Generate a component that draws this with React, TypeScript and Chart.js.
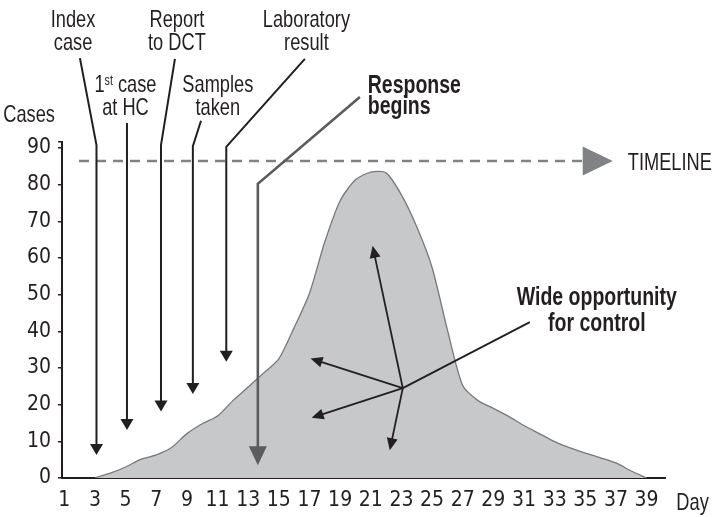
import React, { useEffect, useRef } from "react";
import { Chart, registerables } from "chart.js";

Chart.register(...registerables);

// ---- data ----
const days = [3, 4, 5, 6, 7, 8, 9, 10, 11, 12, 13, 14, 15, 16, 17, 18, 19, 20, 21, 22, 23, 24, 25, 26, 27, 28, 29, 30, 31, 32, 33, 34, 35, 36, 37, 38, 39];
const cases = [0, 1.3, 3.0, 5.1, 6.3, 8.3, 12.1, 14.8, 16.9, 21.1, 24.8, 28.6, 32.5, 41.0, 50.4, 64.4, 75.6, 81.3, 83.4, 83.2, 77.2, 68.5, 57.4, 40.4, 25.2, 21.1, 19.0, 16.8, 14.3, 12.1, 9.9, 8.2, 6.8, 5.5, 4.1, 1.9, 0];
const xTickLabels = [1, 3, 5, 7, 9, 11, 13, 15, 17, 19, 21, 23, 25, 27, 29, 31, 33, 35, 37, 39];
const yTickLabels = [0, 10, 20, 30, 40, 50, 60, 70, 80, 90];

// ---- annotations (in day / cases units) ----
const regularNotes = [
  { lines: ["Index", "case"], x: 1.57, y: [123.0, 116.7], align: "center" },
  { lines: ["Report", "to DCT"], x: 8.35, y: [123.0, 116.7], align: "center" },
  { lines: ["Laboratory", "result"], x: 16.8, y: [123.0, 116.7], align: "center" },
  { lines: ["Samples", "taken"], x: 11.02, y: [105.3, 99.0], align: "center" },
  { lines: ["Cases"], x: -1.3, y: [97.1], align: "center" },
  { lines: ["TIMELINE"], x: 37.77, y: [83.9], align: "left" },
  { lines: ["Day"], x: 42.0, y: [-8.7], align: "center" },
];
const boldNotes = [
  { lines: ["Response", "begins"], x: 20.8, y: [105.1, 99.3], align: "left" },
  { lines: ["Wide opportunity", "for control"], x: 35.75, y: [47.2, 40.1], align: "center" },
];
const firstCaseNote = { x: 4.99, y: [105.3, 99.0] };

const pointers = [
  [[2.02, 114.5], [3.1, 90.8], [3.1, 6.3]],
  [[5.09, 96.8], [5.09, 13.1]],
  [[8.22, 114.3], [7.31, 90.8], [7.31, 18.1]],
  [[9.92, 97.4], [9.39, 90.5], [9.39, 22.9]],
  [[16.7, 114.3], [11.57, 90.3], [11.57, 31.7]],
];
const responsePointer = [[20.29, 103.9], [13.63, 80.2], [13.63, 3.5]];
const hub = [23.09, 24.5];
const hubLeader = [31.38, 42.5];
const hubArrows = [[21.12, 63.3], [17.07, 32.6], [17.14, 16.4], [22.24, 7.6]];
const timeline = { y: 86.45, from: 1.96, to: 34.83, tip: 36.79 };

const TICK_FONT = "'DejaVu Sans Condensed', 'Liberation Sans', sans-serif";
const NOTE_FONT = "'Liberation Sans', Arial, sans-serif";
const INK = "#231f20";
const REG_SIZE = 24;
const REG_SQUEEZE = 0.76;
const BOLD_SIZE = 25;
const BOLD_SQUEEZE = 0.78;

function head(ctx: CanvasRenderingContext2D, x1: number, y1: number, x2: number, y2: number, len: number, half: number, color: string) {
  const a = Math.atan2(y2 - y1, x2 - x1);
  const bx = x2 - len * Math.cos(a);
  const by = y2 - len * Math.sin(a);
  ctx.beginPath();
  ctx.moveTo(x2, y2);
  ctx.lineTo(bx + half * Math.sin(a), by - half * Math.cos(a));
  ctx.lineTo(bx - half * Math.sin(a), by + half * Math.cos(a));
  ctx.closePath();
  ctx.fillStyle = color;
  ctx.fill();
}

function polyArrow(ctx: CanvasRenderingContext2D, pts: number[][], color: string, width: number, len: number, half: number, withHead = true) {
  ctx.save();
  ctx.strokeStyle = color;
  ctx.lineWidth = width;
  ctx.lineJoin = "miter";
  ctx.beginPath();
  const n = pts.length;
  for (let i = 0; i < n; i++) {
    let [x, y] = pts[i];
    if (i === n - 1 && withHead) {
      const [px, py] = pts[i - 1];
      const d = Math.hypot(x - px, y - py);
      x = x - ((x - px) / d) * (len - 1);
      y = y - ((y - py) / d) * (len - 1);
    }
    if (i === 0) ctx.moveTo(x, y);
    else ctx.lineTo(x, y);
  }
  ctx.stroke();
  if (withHead) {
    const [px, py] = pts[n - 2];
    const [x, y] = pts[n - 1];
    head(ctx, px, py, x, y, len, half, color);
  }
  ctx.restore();
}

function squeezedText(ctx: CanvasRenderingContext2D, text: string, x: number, y: number, squeeze: number) {
  ctx.save();
  ctx.translate(x, y);
  ctx.scale(squeeze, 1);
  ctx.fillText(text, 0, 0);
  ctx.restore();
}

const annotationPlugin = {
  id: "outbreakNotes",
  afterDraw(chart: any) {
    const ctx: CanvasRenderingContext2D = chart.ctx;
    const xs = chart.scales.x;
    const ys = chart.scales.y;
    const P = (p: number[]) => [xs.getPixelForValue(p[0]), ys.getPixelForValue(p[1])];

    // timeline
    ctx.save();
    const ty = ys.getPixelForValue(timeline.y);
    const tx0 = xs.getPixelForValue(timeline.from);
    const tx1 = xs.getPixelForValue(timeline.to);
    const tx2 = xs.getPixelForValue(timeline.tip);
    ctx.strokeStyle = "#808285";
    ctx.lineWidth = 2.5;
    ctx.setLineDash([10, 7]);
    ctx.beginPath();
    ctx.moveTo(tx0, ty);
    ctx.lineTo(tx1, ty);
    ctx.stroke();
    ctx.setLineDash([]);
    ctx.fillStyle = "#808285";
    ctx.beginPath();
    ctx.moveTo(tx2, ty);
    ctx.lineTo(tx1, ty - 14.5);
    ctx.lineTo(tx1, ty + 14.5);
    ctx.closePath();
    ctx.fill();
    ctx.restore();

    // pointers
    pointers.forEach((pts) => polyArrow(ctx, pts.map(P), INK, 2, 11, 6.5));
    polyArrow(ctx, responsePointer.map(P), "#5b5c5e", 2.6, 19, 9);

    // hub arrows
    const h = P(hub);
    polyArrow(ctx, [h, P(hubLeader)], INK, 1.8, 0, 0, false);
    hubArrows.forEach((t) => polyArrow(ctx, [h, P(t)], INK, 1.8, 12, 5.5));

    // texts
    ctx.save();
    ctx.fillStyle = INK;
    ctx.textBaseline = "alphabetic";
    const drawNotes = (notes: any[], font: string, squeeze: number) => {
      ctx.font = font;
      notes.forEach((n) => {
        ctx.textAlign = n.align;
        n.lines.forEach((line: string, i: number) => {
          squeezedText(ctx, line, xs.getPixelForValue(n.x), ys.getPixelForValue(n.y[i]), squeeze);
        });
      });
    };
    drawNotes(regularNotes, `${REG_SIZE}px ${NOTE_FONT}`, REG_SQUEEZE);
    drawNotes(boldNotes, `bold ${BOLD_SIZE}px ${NOTE_FONT}`, BOLD_SQUEEZE);

    // "1st case" with superscript
    const cx = xs.getPixelForValue(firstCaseNote.x);
    const b1 = ys.getPixelForValue(firstCaseNote.y[0]);
    const b2 = ys.getPixelForValue(firstCaseNote.y[1]);
    const big = `${REG_SIZE}px ${NOTE_FONT}`;
    const small = `14px ${NOTE_FONT}`;
    ctx.textAlign = "left";
    ctx.font = big;
    const w1 = ctx.measureText("1").width * REG_SQUEEZE;
    const w3 = ctx.measureText(" case").width * REG_SQUEEZE;
    ctx.font = small;
    const w2 = ctx.measureText("st").width * REG_SQUEEZE;
    const sx = cx - (w1 + w2 + w3) / 2;
    ctx.font = big;
    squeezedText(ctx, "1", sx, b1, REG_SQUEEZE);
    ctx.font = small;
    squeezedText(ctx, "st", sx + w1, b1 - 7, REG_SQUEEZE);
    ctx.font = big;
    squeezedText(ctx, " case", sx + w1 + w2, b1, REG_SQUEEZE);
    ctx.textAlign = "center";
    squeezedText(ctx, "at HC", cx, b2, REG_SQUEEZE);
    ctx.restore();
  },
};

export default function App() {
  const ref = useRef<HTMLCanvasElement>(null);
  useEffect(() => {
    if (!ref.current) return;
    const chart = new Chart(ref.current, {
      type: "line",
      data: {
        datasets: [
          {
            data: days.map((d, i) => ({ x: d, y: cases[i] })),
            fill: "origin",
            backgroundColor: "#c7c8ca",
            borderColor: "#77787b",
            borderWidth: 1.3,
            pointRadius: 0,
            tension: 0.25,
          },
        ],
      },
      options: {
        responsive: false,
        animation: false,
        devicePixelRatio: 1,
        layout: { padding: { top: 141.7, left: 0, right: 47, bottom: 0 } },
        plugins: { legend: { display: false }, tooltip: { enabled: false } },
        scales: {
          x: {
            type: "linear",
            min: 0.85,
            max: 40.2,
            afterBuildTicks: (s: any) => {
              s.ticks = xTickLabels.map((v) => ({ value: v }));
            },
            afterFit: (s: any) => {
              s.height = 39;
            },
            grid: { display: true, drawOnChartArea: false, drawTicks: false, color: "rgba(0,0,0,0)" },
            border: { display: true, color: INK, width: 2 },
            ticks: {
              font: { family: TICK_FONT, size: 21 },
              color: INK,
              padding: 10,
              maxRotation: 0,
              autoSkip: false,
              callback: (v: any) => String(v),
            },
          },
          y: {
            type: "linear",
            min: 0,
            max: 91.7,
            afterBuildTicks: (s: any) => {
              s.ticks = [...yTickLabels, s.max].map((v) => ({ value: v }));
            },
            afterFit: (s: any) => {
              s.width = 62;
            },
            grid: { display: true, drawOnChartArea: false, drawTicks: true, tickLength: 4, color: INK, lineWidth: 1.5 },
            border: { display: true, color: INK, width: 2 },
            ticks: {
              font: { family: TICK_FONT, size: 21 },
              color: INK,
              padding: 7,
              callback: (v: any) => (yTickLabels.includes(v) ? String(v) : ""),
            },
          },
        },
      },
      plugins: [annotationPlugin],
    });
    return () => chart.destroy();
  }, []);
  return (
    <div style={{ position: "fixed", left: 0, top: 0, width: 712, height: 517, background: "#fff" }}>
      <canvas ref={ref} width={712} height={517} style={{ display: "block" }} />
    </div>
  );
}
